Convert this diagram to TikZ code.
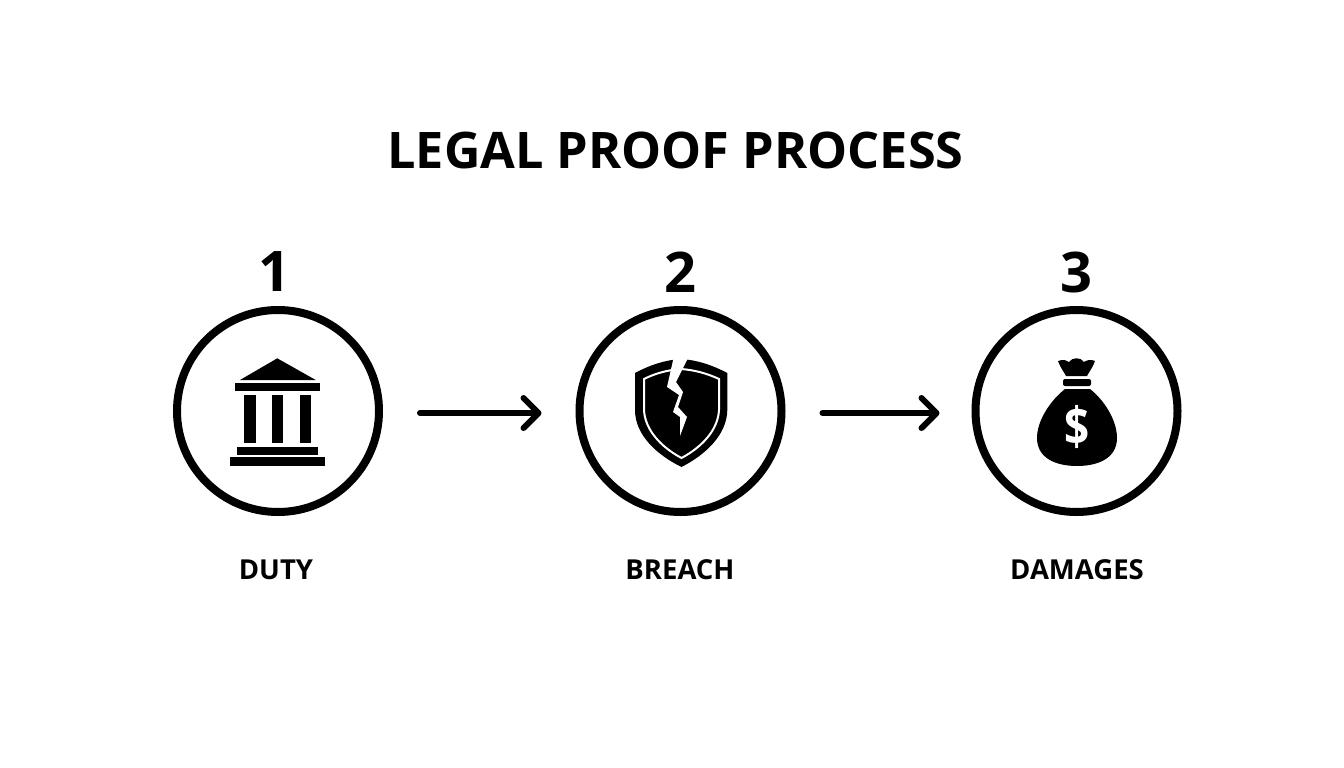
\documentclass[tikz,border=0pt]{standalone}
\usepackage{fontspec}
\setmainfont{Open Sans}
\usetikzlibrary{arrows.meta}
\begin{document}
\begin{tikzpicture}[
	x=1pt,y=-1pt,
	stepcircle/.style={
		circle,
		draw,
		line width=8pt,
		minimum size=202pt,
		inner sep=0pt,
	},
	stepnum/.style={
		font=\fontsize{56}{56}\selectfont\bfseries,
		inner sep=0pt,
	},
	steplabel/.style={
		font=\fontsize{27.5}{27.5}\selectfont\bfseries,
		inner sep=0pt,
	},
	ArrowF/.style={
		line width=6pt,
		line cap=round,
		shorten <=37pt,
		shorten >=34pt,
		-{Straight Barb[length=15pt,width=30pt,line cap=round,round]},
	},
]
	\useasboundingbox (0,0) rectangle (1344,768);

	\node [font=\fontsize{50.4}{50.4}\selectfont\bfseries, inner sep=0pt] (title) at (675.5,150) {LEGAL PROOF PROCESS};

	\node [stepcircle] (duty) at (278,411) {};
	\node [stepcircle] (breach) at (680.5,411) {};
	\node [stepcircle] (damages) at (1076.5,411) {};

	\node [stepnum] (num1) at (274,272) {1};
	\node [stepnum] (num2) at (680,272) {2};
	\node [stepnum] (num3) at (1076,272) {3};

	\node [steplabel] (lab1) at (276,570) {DUTY};
	\node [steplabel] (lab2) at (680,570) {BREACH};
	\node [steplabel] (lab3) at (1077,570) {DAMAGES};

	\draw [ArrowF] ([yshift=-2pt]duty.east) -- ([yshift=-2pt]breach.west);
	\draw [ArrowF, shorten >=32pt] ([yshift=-2pt]breach.east) -- ([yshift=-2pt]damages.west);

	% bank
	\fill (277.3,358.3) -- (315.7,380) -- (240,380) -- cycle;
	\fill (235,383.3) rectangle (320,391.3);
	\foreach \cx in {244,271.7,299.7}
		\fill (\cx,394.7) rectangle (\cx+11.7,443.3);
	\fill (236.7,446.7) rectangle (318.3,454.7);
	\fill (230,457.3) rectangle (325,465.7);

	% shield
	\fill (635,373) .. controls (650,365) and (665,360) .. (681,359)
		.. controls (697,360) and (712,365) .. (727.3,373)
		-- (727.3,410) .. controls (727,435) and (705,455) .. (681.5,467)
		.. controls (657,455) and (635,435) .. (635,410) -- cycle;
	\draw [white, line width=2pt] (644,379) .. controls (656,373) and (668,370) .. (681,369)
		.. controls (694,370) and (706,373) .. (719,379)
		-- (719,410) .. controls (718,430) and (702,447) .. (681.5,458)
		.. controls (661,447) and (645,430) .. (644,410) -- cycle;
	\fill [white] (674,356) -- (667,387) -- (679,395) -- (673,412) -- (680,417) -- (680,436)
		-- (687,417) -- (678,407) -- (683,392) -- (676,382) -- (689,356) -- cycle;

	% money bag
	\fill (1058,361) .. controls (1064,359) and (1066,360) .. (1069,362)
		.. controls (1072,357) and (1081,357) .. (1084,362)
		.. controls (1087,360) and (1091,359) .. (1095,361)
		.. controls (1093,367) and (1089,372) .. (1087,376)
		-- (1066,376) .. controls (1064,372) and (1060,367) .. (1058,361) -- cycle;
	\fill [rounded corners=2pt] (1063,379) rectangle (1091,386);
	\fill (1065,389) -- (1090,389)
		.. controls (1104,400) and (1117,420) .. (1117,438)
		.. controls (1117,457) and (1100,466) .. (1077,466)
		.. controls (1054,466) and (1037,457) .. (1037,438)
		.. controls (1037,420) and (1051,400) .. (1065,389) -- cycle;
	\node [text=white, font=\fontsize{44}{44}\selectfont\bfseries, inner sep=0pt, yscale=1.2, transform shape] (dollar) at (1077,427) {\$};
\end{tikzpicture}
\end{document}
